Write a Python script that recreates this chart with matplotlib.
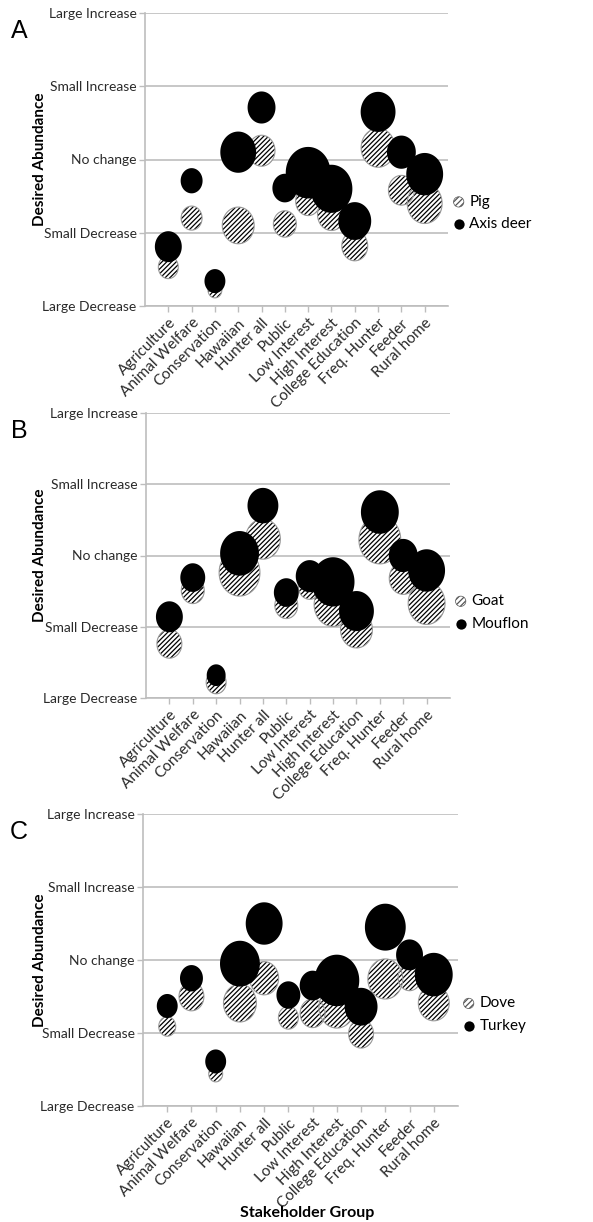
import matplotlib
matplotlib.use("Agg")
import matplotlib.pyplot as plt
import numpy as np
from matplotlib.path import Path

plt.rcParams['font.family'] = ['Lato', 'DejaVu Sans']
plt.rcParams['hatch.linewidth'] = 0.9
plt.rcParams['hatch.color'] = 'black'

groups = ["Agriculture", "Animal Welfare", "Conservation", "Hawaiian", "Hunter all",
          "Public", "Low Interest", "High Interest", "College Education",
          "Freq. Hunter", "Feeder", "Rural home"]
levels = ["Large Decrease", "Small Decrease", "No change", "Small Increase", "Large Increase"]
level_values = [-2, -1, 0, 1, 2]

# Panel A: pig (hatched) and axis deer (solid)
pig_mean = [-1.47, -0.80, -1.78, -0.90, 0.12, -0.88, -0.57, -0.75, -1.18, 0.16, -0.42, -0.60]
pig_n = [80, 88, 39, 205, 146, 106, 125, 157, 135, 231, 135, 245]
deer_mean = [-1.19, -0.29, -1.66, 0.10, 0.71, -0.39, -0.18, -0.40, -0.84, 0.65, 0.10, -0.20]
deer_n = [146, 97, 88, 259, 157, 125, 405, 353, 218, 245, 168, 274]

# Panel B: goat (hatched) and mouflon (solid)
goat_mean = [-1.24, -0.49, -1.78, -0.24, 0.23, -0.70, -0.43, -0.69, -1.04, 0.22, -0.32, -0.67]
goat_n = [125, 106, 80, 336, 245, 106, 106, 289, 205, 353, 157, 274]
mouflon_mean = [-0.86, -0.31, -1.68, 0.03, 0.70, -0.52, -0.29, -0.37, -0.78, 0.61, 0.00, -0.21]
mouflon_n = [146, 125, 72, 304, 192, 125, 157, 370, 245, 289, 168, 274]

# Panel C: dove (hatched) and turkey (solid)
dove_mean = [-0.91, -0.50, -1.56, -0.59, -0.25, -0.79, -0.73, -0.65, -1.01, -0.26, -0.24, -0.59]
dove_n = [58, 125, 39, 218, 168, 80, 125, 259, 125, 245, 106, 192]
turkey_mean = [-0.63, -0.25, -1.39, -0.05, 0.50, -0.48, -0.35, -0.28, -0.64, 0.45, 0.07, -0.20]
turkey_n = [88, 106, 88, 320, 274, 115, 135, 405, 218, 336, 146, 289]

panels = [
    ("A", "Pig", pig_mean, pig_n, "Axis deer", deer_mean, deer_n),
    ("B", "Goat", goat_mean, goat_n, "Mouflon", mouflon_mean, mouflon_n),
    ("C", "Dove", dove_mean, dove_n, "Turkey", turkey_mean, turkey_n),
]

W, H = 593, 1222
# axes boxes in pixels: left, top, right, bottom
boxes = [
    (145, 13, 448, 306),
    (146, 413, 450, 698),
    (143, 814, 458, 1106),
]
legend_y = [0.317, 0.300, 0.313]

# slightly tall ellipse marker
t = np.linspace(0, 2 * np.pi, 120)
ell = Path(np.column_stack([np.cos(t), 1.15 * np.sin(t)]), closed=True)

grid_c = '#bdbdbd'
text_c = '#2a2a2a'
edge_c = '#9a9a9a'
hatch = '///////'
size_scale = 3.4  # marker area (pt^2) per respondent

fig = plt.figure(figsize=(W / 100, H / 100), dpi=100)

for (letter, name1, m1, n1, name2, m2, n2), (l, tp, r, b), ly in zip(panels, boxes, legend_y):
    ax = fig.add_axes([l / W, 1 - b / H, (r - l) / W, (b - tp) / H])
    x = np.arange(1, len(groups) + 1)
    s1 = np.array(n1) * size_scale
    s2 = np.array(n2) * size_scale
    ax.scatter(x, m1, s=s1, marker=ell, facecolor='white', edgecolors='black',
               linewidths=0, hatch=hatch, zorder=3)
    ax.scatter(x, m1, s=s1, marker=ell, facecolor='none', edgecolors=edge_c,
               linewidths=0.8, zorder=3)
    ax.scatter(x, m2, s=s2, marker=ell, facecolor='black', edgecolors='black',
               linewidths=0, zorder=4)

    ax.set_xlim(0, 13)
    ax.set_ylim(-2, 2)
    ax.set_yticks(level_values)
    ax.set_yticklabels(levels, fontsize=10, color=text_c)
    ax.set_xticks(x)
    ax.set_xticklabels(groups, rotation=45, ha='right', rotation_mode='anchor',
                       fontsize=11, color=text_c)
    ax.tick_params(axis='both', colors=grid_c, labelcolor=text_c, length=4, width=1)
    ax.tick_params(axis='x', pad=3)
    ax.tick_params(axis='y', pad=2)
    for sp in ('top', 'right'):
        ax.spines[sp].set_visible(False)
    for sp in ('left', 'bottom'):
        ax.spines[sp].set_color(grid_c)
        ax.spines[sp].set_linewidth(1.2)
    ax.set_axisbelow(True)
    ax.yaxis.grid(True, color=grid_c, linewidth=1.2)
    ax.set_ylabel("Desired Abundance", fontsize=11, fontweight='bold', color='black')
    ax.yaxis.set_label_coords((47 - l) / (r - l), 0.5)

    fig.text(19 / W, 1 - (tp + 18) / H, letter, fontsize=18,
             family=['Liberation Sans', 'DejaVu Sans'], va='center', ha='center')

    h1 = ax.scatter([], [], s=55, marker='o', facecolor='white', edgecolors='#555555',
                    linewidths=0.5, hatch='//////')
    h2 = ax.scatter([], [], s=55, marker='o', facecolor='black', edgecolors='black',
                    linewidths=0)
    ax.legend([h1, h2], [name1, name2], loc='center left', scatterpoints=1,
              bbox_to_anchor=(1.0, ly), frameon=False, fontsize=11,
              handlelength=0.7, handletextpad=0.35, labelspacing=0.55,
              borderaxespad=0.15, borderpad=0.2)

fig.text(307 / W, 1 - 1213 / H, "Stakeholder Group", fontsize=11.5, fontweight='bold',
         color='black', ha='center', va='center')

fig.savefig("out.png", dpi=100)
